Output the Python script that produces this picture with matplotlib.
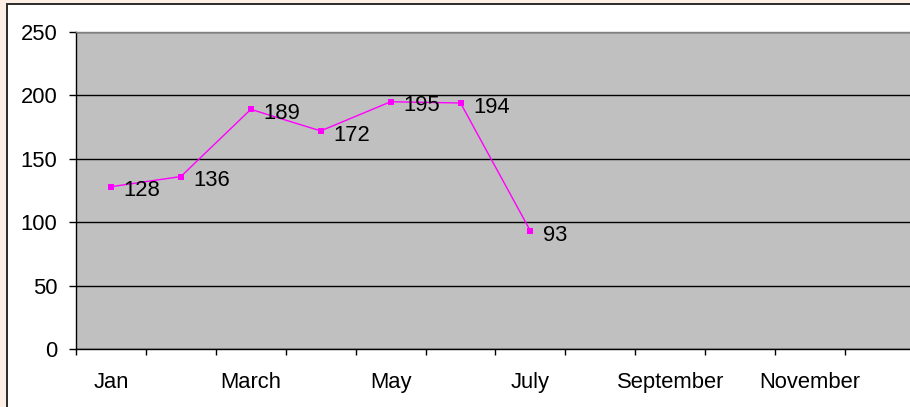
import matplotlib.pyplot as plt
from matplotlib.patches import Rectangle

plt.rcParams['font.family'] = ['Liberation Sans', 'DejaVu Sans']

# Chart data
months = ['Jan', 'Feb', 'March', 'April', 'May', 'June', 'July',
          'August', 'September', 'October', 'November', 'December']
tick_labels = ['Jan', 'March', 'May', 'July', 'September', 'November']
values = [128, 136, 189, 172, 195, 194, 93]
y_ticks = [0, 50, 100, 150, 200, 250]

W, H = 910, 407
fig = plt.figure(figsize=(W / 100, H / 100), dpi=100)
fig.patch.set_facecolor('#FDEFE6')

# White chart area with dark frame (runs off the right/bottom edge)
fig.patches.append(Rectangle((6.5 / W, -0.1), 1.2, 1 - 4 / H + 0.1,
                             transform=fig.transFigure, facecolor='white',
                             edgecolor='#2a2a2a', linewidth=1.4, zorder=-10))

# Plot area: x from 76 px to ~915 px, y from 32 px to 349 px
ax = fig.add_axes([76 / W, 1 - 349 / H, (915 - 76) / W, (349 - 32) / H])
ax.set_facecolor('#C0C0C0')

x = list(range(len(values)))
ax.plot(x, values, color='#FF00FF', linewidth=1, marker='s',
        markersize=4.2, markeredgewidth=0, zorder=3)
for xi, v in zip(x, values):
    ax.annotate(str(v), (xi, v), xytext=(9, -3), textcoords='offset points',
                ha='left', va='center', fontsize=15.8, color='black', zorder=4)

ax.set_xlim(-0.5, len(months) - 0.5)
ax.set_ylim(0, 250)

# Category boundaries as major ticks, labels at every other category centre
ax.set_xticks([i - 0.5 for i in range(len(months) + 1)])
ax.set_xticklabels([])
ax.set_xticks([months.index(m) for m in tick_labels], minor=True)
ax.set_xticklabels(tick_labels, minor=True, fontsize=15.8)
ax.tick_params(axis='x', which='major', length=4.5, width=1, color='black')
ax.tick_params(axis='x', which='minor', length=0, pad=16.5)

ax.set_yticks(y_ticks)
ax.set_yticklabels([str(t) for t in y_ticks], fontsize=15.8)
ax.tick_params(axis='y', length=5, width=1, color='black', pad=8.5)

ax.yaxis.grid(True, color='black', linewidth=1)
ax.set_axisbelow(True)

ax.spines['left'].set_color('black')
ax.spines['bottom'].set_color('black')
ax.spines['top'].set_color('#808080')
ax.spines['right'].set_color('#808080')
for s in ax.spines.values():
    s.set_linewidth(1)

fig.savefig('out.png', dpi=100, facecolor=fig.get_facecolor())
